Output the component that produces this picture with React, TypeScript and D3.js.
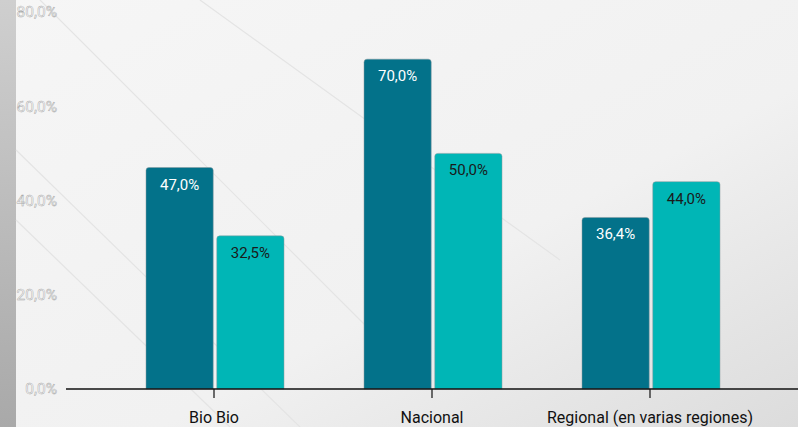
import React, { useEffect, useRef } from "react"
import * as d3 from "d3"

const categories = ["Bio Bio", "Nacional", "Regional (en varias regiones)"]
const seriesA = [47.0, 70.0, 36.4]
const seriesB = [32.5, 50.0, 44.0]
const yTicks = [0, 20, 40, 60, 80]

const W = 798
const H = 427

const fmt = (v: number) => v.toFixed(1).replace(".", ",") + "%"

export default function App() {
  const svgRef = useRef<SVGSVGElement>(null)

  useEffect(() => {
    if (!svgRef.current) return
    const svg = d3.select(svgRef.current)
    svg.selectAll("*").remove()

    // background approximation of the photo
    const defs = svg.append("defs")
    const grad = defs.append("linearGradient")
      .attr("id", "bg").attr("x1", "0").attr("y1", "0").attr("x2", "1").attr("y2", "1")
    grad.append("stop").attr("offset", "0").attr("stop-color", "#f6f6f6")
    grad.append("stop").attr("offset", "0.6").attr("stop-color", "#f1f1f1")
    grad.append("stop").attr("offset", "1").attr("stop-color", "#dcdcdc")
    svg.append("rect").attr("width", W).attr("height", H).attr("fill", "url(#bg)")
    const strip = defs.append("linearGradient")
      .attr("id", "strip").attr("x1", "0").attr("y1", "0").attr("x2", "0").attr("y2", "1")
    strip.append("stop").attr("offset", "0").attr("stop-color", "#cfcfcf")
    strip.append("stop").attr("offset", "1").attr("stop-color", "#a9a9a9")
    svg.append("rect").attr("width", 16).attr("height", H).attr("fill", "url(#strip)")

    // faint diagonal shapes
    const deco = svg.append("g").attr("stroke", "#e4e4e4").attr("fill", "none").attr("stroke-width", 1.2)
    ;[[16, 150, 300, 427], [16, 220, 230, 427], [40, 0, 420, 380], [200, 0, 560, 260]].forEach(([x1, y1, x2, y2]) => {
      deco.append("line").attr("x1", x1).attr("y1", y1).attr("x2", x2).attr("y2", y2)
    })

    const baseY = 389
    const y = d3.scaleLinear().domain([0, 80]).range([baseY, 12])
    const x0 = d3.scaleBand<string>().domain(categories).range([105, 759]).paddingInner(0).paddingOuter(0)
    const x1 = d3.scaleBand<string>().domain(["a", "b"]).range([41, 179]).paddingInner(0.05)

    // y labels
    svg.append("g").selectAll("text").data(yTicks).enter().append("text")
      .attr("x", 57).attr("y", d => y(d)).attr("dy", "0.35em")
      .attr("text-anchor", "end")
      .attr("font-family", "Roboto, sans-serif").attr("font-size", 15.5)
      .attr("fill", "#ffffff").attr("stroke", "#a8a8a8").attr("stroke-width", 0.5)
      .text(d => fmt(d))

    const series = [
      { key: "a", values: seriesA, fill: "#03728a", text: "#ffffff" },
      { key: "b", values: seriesB, fill: "#00b6b6", text: "#1a1a1a" },
    ]

    const r = 3
    const barPath = (x: number, top: number, w: number, bottom: number) =>
      `M${x},${bottom}V${top + r}Q${x},${top} ${x + r},${top}H${x + w - r}Q${x + w},${top} ${x + w},${top + r}V${bottom}Z`

    series.forEach(s => {
      const g = svg.append("g")
      categories.forEach((c, i) => {
        const bx = (x0(c) || 0) + (x1(s.key) || 0)
        const bw = x1.bandwidth()
        const top = y(s.values[i])
        g.append("path")
          .attr("d", barPath(bx, top, bw, baseY))
          .attr("fill", s.fill)
          .attr("stroke", "#8a9a9e").attr("stroke-width", 0.5)
        g.append("text")
          .attr("x", bx + bw / 2).attr("y", top + 22)
          .attr("text-anchor", "middle")
          .attr("font-family", "Roboto, sans-serif").attr("font-size", 15)
          .attr("fill", s.text)
          .text(fmt(s.values[i]))
      })
    })

    // x axis
    svg.append("line").attr("x1", 66).attr("x2", W).attr("y1", baseY).attr("y2", baseY)
      .attr("stroke", "#111").attr("stroke-width", 1.3)
    const ax = svg.append("g")
    categories.forEach(c => {
      const cx = (x0(c) || 0) + x0.bandwidth() / 2
      ax.append("line").attr("x1", cx).attr("x2", cx).attr("y1", baseY).attr("y2", baseY + 9)
        .attr("stroke", "#111").attr("stroke-width", 1.2)
      ax.append("text").attr("x", cx).attr("y", 423)
        .attr("text-anchor", "middle")
        .attr("font-family", "Roboto, sans-serif").attr("font-size", 16)
        .attr("fill", "#111")
        .text(c)
    })
  }, [])

  return (
    <div style={{ position: "fixed", left: 0, top: 0, width: W, height: H }}>
      <svg ref={svgRef} width={W} height={H} style={{ display: "block" }} />
    </div>
  )
}
